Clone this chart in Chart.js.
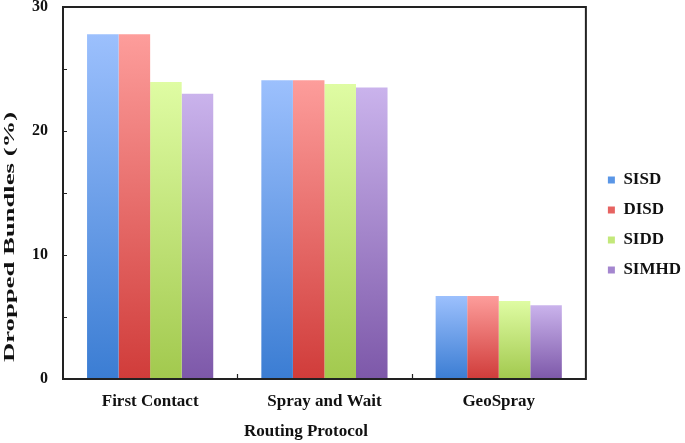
<!DOCTYPE html>
<html>
<head>
<meta charset="utf-8">
<script src="https://cdn.jsdelivr.net/npm/chart.js@4/dist/chart.umd.min.js"></script>
<style>
  html, body { margin: 0; padding: 0; background: #fff; }
  #wrap { width: 685px; height: 443px; }
</style>
</head>
<body>
<div id="wrap"><canvas id="bars"></canvas></div>
<script>
var categories = ['First Contact', 'Spray and Wait', 'GeoSpray'];
var sisd = [27.8, 24.1, 6.7];
var disd = [27.8, 24.1, 6.7];
var sidd = [23.95, 23.8, 6.3];
var simhd = [23.0, 23.5, 5.95];

var names = ['SISD', 'DISD', 'SIDD', 'SIMHD'];
var series = [sisd, disd, sidd, simhd];

// top colour, bottom colour, legend colour
var palette = [
    ['#9cc0fd', '#3b7dd3', '#5a96e6'],
    ['#fd9d9b', '#d03c3a', '#e66361'],
    ['#dffca3', '#a2c94e', '#c3e87a'],
    ['#cab3ec', '#7d58a9', '#a486cf']
];

var serif = 'Liberation Serif';

function barGradient(i) {
    return function (c) {
        var chart = c.chart;
        if (!chart.chartArea || c.type !== 'data') return palette[i][2];
        var y = chart.scales.y;
        var top = y.getPixelForValue(c.raw);
        var bottom = y.getPixelForValue(0);
        if (!isFinite(top) || top === bottom) return palette[i][2];
        var g = chart.ctx.createLinearGradient(0, top, 0, bottom);
        g.addColorStop(0, palette[i][0]);
        g.addColorStop(1, palette[i][1]);
        return g;
    };
}

// box border, inward ticks, axis titles, legend nudging
var frame = {
    id: 'frame',
    afterInit: function (chart) {
        var lg = chart.legend;
        var fit = lg.fit;
        lg.fit = function () {
            fit.call(this);
            this.width += 3;
        };
    },
    afterLayout: function (chart) {
        chart.legend.left += 9;
        chart.legend.top += 16;
        chart.legend.bottom += 16;
    },
    afterDraw: function (chart) {
        var ctx = chart.ctx, a = chart.chartArea;
        var x = chart.scales.x, y = chart.scales.y;
        ctx.save();
        ctx.strokeStyle = '#222';
        ctx.lineWidth = 2;
        ctx.strokeRect(a.left, a.top, a.right - a.left, a.bottom - a.top);
        ctx.lineWidth = 1.2;
        ctx.beginPath();
        y.ticks.forEach(function (t) {
            var py = Math.round(y.getPixelForValue(t.value)) + 0.5;
            ctx.moveTo(a.left, py);
            ctx.lineTo(a.left + 4, py);
        });
        for (var i = 0; i < categories.length - 1; i++) {
            var px = Math.round((x.getPixelForValue(i) + x.getPixelForValue(i + 1)) / 2) + 0.5;
            ctx.moveTo(px, a.bottom);
            ctx.lineTo(px, a.bottom - 5);
        }
        ctx.stroke();

        ctx.fillStyle = '#111';
        ctx.textAlign = 'center';
        ctx.textBaseline = 'middle';
        ctx.font = 'bold 17px "' + serif + '"';
        ctx.fillText('Routing Protocol', 306, 432);

        ctx.translate(10, 237);
        ctx.rotate(-Math.PI / 2);
        ctx.scale(1.78, 1);
        ctx.font = 'bold 15px "' + serif + '"';
        ctx.fillText('Dropped Bundles (%)', 0, 0);
        ctx.restore();
    }
};

var ctx = document.getElementById('bars').getContext('2d');
var myChart = new Chart(ctx, {
    type: 'bar',
    data: {
        labels: categories,
        datasets: series.map(function (d, i) {
            return {
                label: names[i],
                data: d,
                backgroundColor: barGradient(i),
                borderWidth: 0,
                categoryPercentage: 0.724,
                barPercentage: 1.0
            };
        })
    },
    options: {
        responsive: true,
        maintainAspectRatio: false,
        animation: false,
        layout: {
            padding: { top: 7, right: 0, left: 32, bottom: 32 }
        },
        scales: {
            x: {
                grid: { display: false, drawTicks: false },
                border: { display: false },
                ticks: {
                    color: '#111',
                    padding: 12,
                    font: { family: serif, weight: 'bold', size: 17 }
                },
                afterFit: function (s) {
                    s.height = 32;
                    s.paddingLeft = 0;
                    s.paddingRight = 0;
                }
            },
            y: {
                min: 0,
                max: 30,
                grid: { display: false, drawTicks: false },
                border: { display: false },
                ticks: {
                    stepSize: 5,
                    color: '#111',
                    padding: 15,
                    font: { family: serif, weight: 'bold', size: 16 },
                    callback: function (v) { return v % 10 === 0 ? v : ''; }
                },
                afterFit: function (s) {
                    s.width = 31;
                    s.paddingTop = 0;
                    s.paddingBottom = 0;
                }
            }
        },
        plugins: {
            legend: {
                position: 'right',
                labels: {
                    color: '#111',
                    boxWidth: 7,
                    boxHeight: 7,
                    padding: 13,
                    font: { family: serif, weight: 'bold', size: 17 },
                    generateLabels: function (chart) {
                        return chart.data.datasets.map(function (ds, i) {
                            return {
                                text: ds.label,
                                fillStyle: palette[i][2],
                                strokeStyle: palette[i][2],
                                lineWidth: 0,
                                fontColor: '#111',
                                datasetIndex: i
                            };
                        });
                    }
                }
            },
            tooltip: { enabled: false }
        }
    },
    plugins: [frame]
});
</script>
</body>
</html>
